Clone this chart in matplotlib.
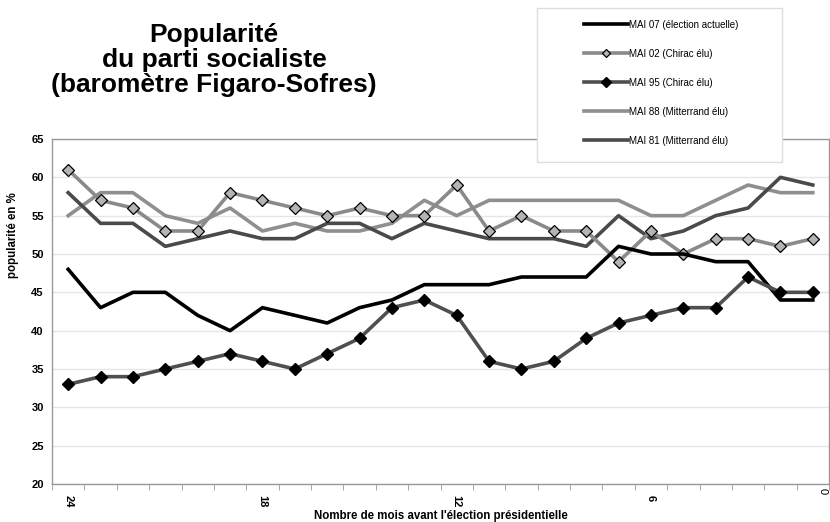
import matplotlib.pyplot as plt
import numpy as np
from matplotlib.patches import Rectangle

plt.rcParams["font.family"] = ["Liberation Sans", "DejaVu Sans"]

# months before the presidential election (category axis, left to right)
months = list(range(24, 0, -1))

mai07 = [48, 43, 45, 45, 42, 40, 43, 42, 41, 43, 44, 46,
         46, 46, 47, 47, 47, 51, 50, 50, 49, 49, 44, 44]
mai02 = [61, 57, 56, 53, 53, 58, 57, 56, 55, 56, 55, 55,
         59, 53, 55, 53, 53, 49, 53, 50, 52, 52, 51, 52]
mai95 = [33, 34, 34, 35, 36, 37, 36, 35, 37, 39, 43, 44,
         42, 36, 35, 36, 39, 41, 42, 43, 43, 47, 45, 45]
mai88 = [55, 58, 58, 55, 54, 56, 53, 54, 53, 53, 54, 57,
         55, 57, 57, 57, 57, 57, 55, 55, 57, 59, 58, 58]
mai81 = [58, 54, 54, 51, 52, 53, 52, 52, 54, 54, 52, 54,
         53, 52, 52, 52, 51, 55, 52, 53, 55, 56, 60, 59]

labels = ["MAI 07 (élection actuelle)", "MAI 02 (Chirac élu)", "MAI 95 (Chirac élu)",
          "MAI 88 (Mitterrand élu)", "MAI 81 (Mitterrand élu)"]
xtick_months = [24, 18, 12, 6]

fig = plt.figure(figsize=(8.3, 5.22), dpi=100)
ax = fig.add_axes([52 / 830, 1 - 484 / 522, 777 / 830, 345 / 522])

x = np.array(months)
lw = 2.6
h88, = ax.plot(x, mai88, color="#8f8f8f", lw=lw, label=labels[3], zorder=2)
h81, = ax.plot(x, mai81, color="#4a4a4a", lw=lw, label=labels[4], zorder=2)
h02, = ax.plot(x, mai02, color="#8a8a8a", lw=lw, marker="D", ms=6,
               mfc="#b4b4b4", mec="black", mew=0.9, label=labels[1], zorder=3)
h07, = ax.plot(x, mai07, color="black", lw=lw, label=labels[0], zorder=4)
h95, = ax.plot(x, mai95, color="#4f4f4f", lw=lw, marker="D", ms=6.5,
               mfc="black", mec="black", label=labels[2], zorder=5)

ax.set_xlim(24.5, 0.5)
ax.set_ylim(20, 65)
ax.set_yticks(range(20, 66, 5))
ax.yaxis.grid(True, color="#e6e6e6", lw=1)
ax.set_axisbelow(True)
for s in ax.spines.values():
    s.set_color("#999999")
    s.set_linewidth(1)

ax.set_xticks(xtick_months)
ax.set_xticklabels([str(m) for m in xtick_months], rotation=-90,
                   fontsize=8, fontweight="bold")
ax.set_xticks(np.arange(24.5, 0, -1), minor=True)
ax.tick_params(axis="x", which="major", length=0, pad=8)
ax.tick_params(axis="x", which="minor", length=4, color="#999999", direction="out")
ax.tick_params(axis="y", length=0, labelsize=8, pad=6)
for t in ax.get_yticklabels():
    t.set_fontweight("bold")
fig.text(823 / 830, 1 - 491 / 522, "0", rotation=-90, fontsize=8,
         ha="center", va="center")

ax.set_ylabel("popularité en %", fontsize=8.3, fontweight="bold")
ax.yaxis.set_label_coords(-0.043, (484 - 235) / 345)
ax.set_xlabel("Nombre de mois avant l'élection présidentielle",
              fontsize=8.3, fontweight="bold", labelpad=2)

fig.text(214 / 830, 1 - 60 / 522,
         "Popularité\ndu parti socialiste\n(baromètre Figaro-Sofres)",
         ha="center", va="center", fontsize=19, fontweight="bold",
         linespacing=1.05)

# legend box
fig.patches.append(Rectangle((537 / 830, 1 - 162 / 522), 245 / 830, 154 / 522,
                             transform=fig.transFigure, facecolor="white",
                             edgecolor="#dddddd", lw=1, zorder=10))
leg = fig.legend([h07, h02, h95, h88, h81], labels, loc="upper left",
                 bbox_to_anchor=(575 / 830, 1 - 11 / 522), frameon=False,
                 fontsize=7, handlelength=4.6, handletextpad=0.05,
                 labelspacing=1.95, markerscale=0.75)
leg.set_zorder(11)

fig.savefig("out.png", dpi=100)
